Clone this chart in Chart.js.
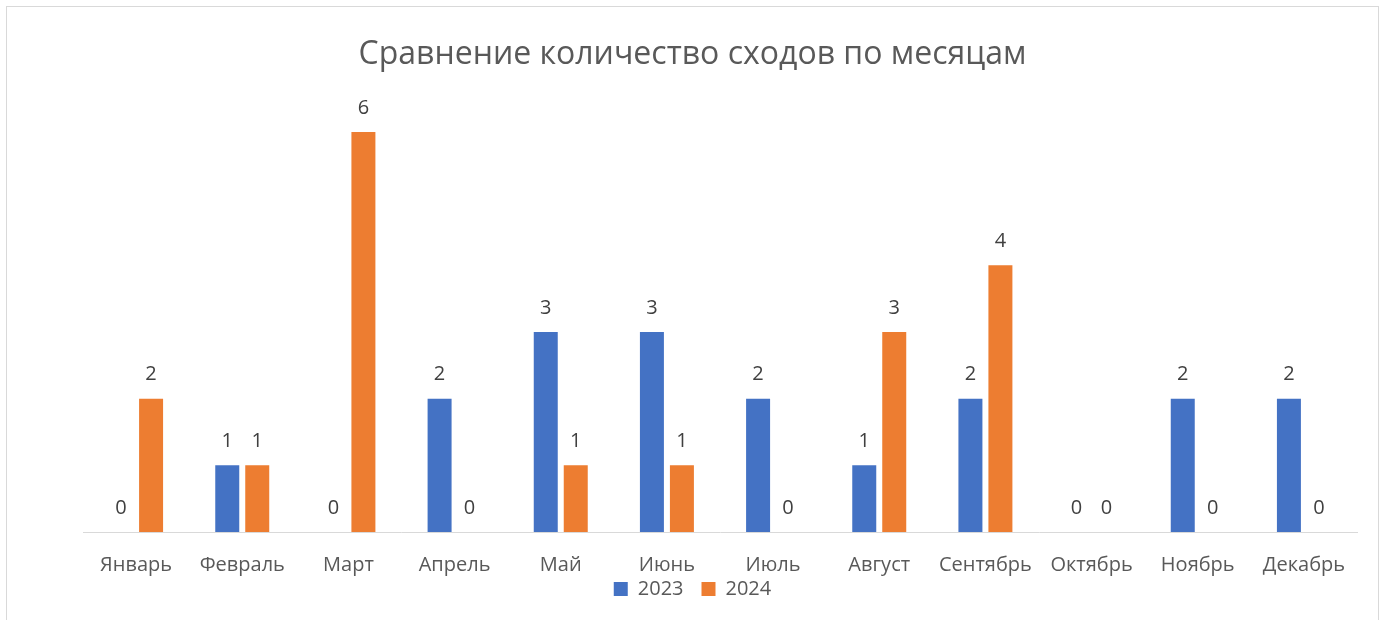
<!DOCTYPE html>
<html>
<head>
<meta charset="utf-8">
<script src="https://cdn.jsdelivr.net/npm/chart.js@4/dist/chart.umd.min.js"></script>
<style>
  html, body { margin: 0; padding: 0; background: #fff; }
  #wrap { width: 1385px; height: 620px; }
</style>
</head>
<body>
<div id="wrap"><canvas id="matchChart" width="1385" height="620"></canvas></div>
<script>
const months = ['Январь','Февраль','Март','Апрель','Май','Июнь','Июль','Август','Сентябрь','Октябрь','Ноябрь','Декабрь'];
const values2023 = [0,1,0,2,3,3,2,1,2,0,2,2];
const values2024 = [2,1,6,0,1,1,0,3,4,0,0,0];

const FONT = "'Open Sans', 'Noto Sans', sans-serif";
const GREY = '#595959';

// frame around the chart, like an office chart object
const framePlugin = {
  id: 'frame',
  beforeDraw(chart) {
    const c = chart.ctx;
    c.save();
    c.strokeStyle = '#d9d9d9';
    c.lineWidth = 1;
    c.strokeRect(6.5, 6.5, 1372, 700);
    c.restore();
  }
};

// x axis box is kept short so the legend sits close; let its labels overflow it
const labelRoom = {
  id: 'labelRoom',
  afterLayout(chart) {
    chart.scales.x.bottom = chart.height;
  }
};

// value above every bar, zeros included
const valueLabels = {
  id: 'valueLabels',
  afterDatasetsDraw(chart) {
    const c = chart.ctx;
    c.save();
    c.font = '20px ' + FONT;
    c.fillStyle = '#404040';
    c.textAlign = 'center';
    c.textBaseline = 'middle';
    chart.data.datasets.forEach((ds, i) => {
      chart.getDatasetMeta(i).data.forEach((bar, j) => {
        c.fillText(String(ds.data[j]), bar.x, bar.y - 24);
      });
    });
    c.restore();
  }
};

const ctx = document.getElementById('matchChart').getContext('2d');
window.matchChart = new Chart(ctx, {
  type: 'bar',
  data: {
    labels: months,
    datasets: [
      { label: '2023', data: values2023, backgroundColor: '#4472C4', categoryPercentage: 0.565, barPercentage: 0.8 },
      { label: '2024', data: values2024, backgroundColor: '#ED7D31', categoryPercentage: 0.565, barPercentage: 0.8 }
    ]
  },
  options: {
    responsive: false,
    animation: false,
    layout: { padding: { left: 28, right: 28, top: 0, bottom: 11 } },
    scales: {
      x: {
        grid: { display: false },
        border: { color: '#d9d9d9', width: 1 },
        ticks: { color: GREY, font: { family: FONT, size: 20 }, padding: 13, maxRotation: 0 },
        afterFit: (s) => { s.height = 29; }
      },
      y: {
        display: true, min: 0, max: 7,
        grid: { display: false }, border: { display: false },
        ticks: { display: false },
        afterFit: (s) => { s.width = 55; }
      }
    },
    plugins: {
      title: {
        display: true,
        text: 'Сравнение количество сходов по месяцам',
        color: GREY,
        font: { family: FONT, size: 32, weight: 'normal' },
        padding: { top: 36, bottom: -9 }
      },
      legend: {
        position: 'bottom',
        labels: { color: GREY, font: { family: FONT, size: 20 }, boxWidth: 14, boxHeight: 14, padding: 18 }
      },
      tooltip: { enabled: false }
    }
  },
  plugins: [framePlugin, labelRoom, valueLabels]
});
</script>
</body>
</html>
